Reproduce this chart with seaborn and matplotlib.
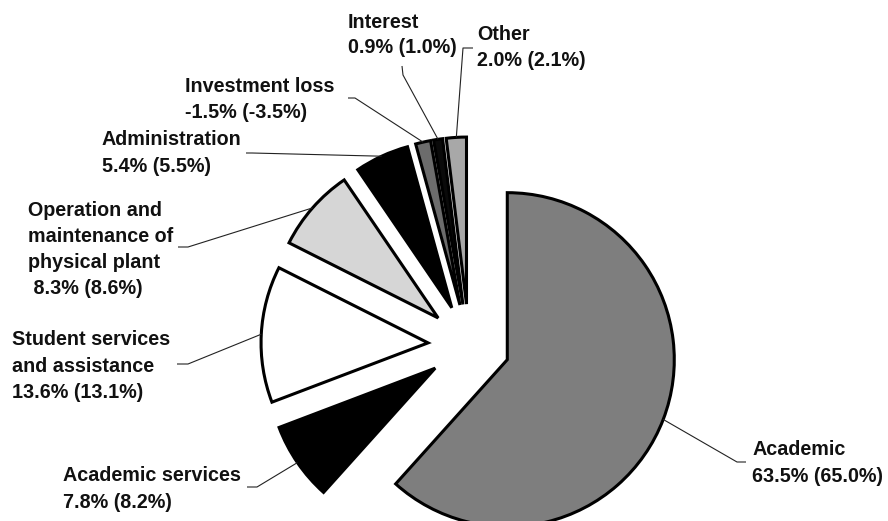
import matplotlib
matplotlib.use("Agg")
import matplotlib.pyplot as plt
import seaborn as sns
import numpy as np

# ---- data ----
categories = ["Academic", "Academic services", "Student services\nand assistance",
              "Operation and\nmaintenance of\nphysical plant", "Administration",
              "Investment loss", "Interest", "Other"]
share_now = [63.5, 7.8, 13.6, 8.3, 5.4, -1.5, 0.9, 2.0]
share_prev = [65.0, 8.2, 13.1, 8.6, 5.5, -3.5, 1.0, 2.1]
colors = ["#7e7e7e", "#000000", "#ffffff", "#d6d6d6", "#000000", "#6c6c6c", "#0a0a0a", "#a8a8a8"]

sns.set_theme(style="white")
plt.rcParams['font.family'] = ['Liberation Sans', 'DejaVu Sans']

W, H, DPI = 888, 521, 100
CX, CY, R = 469, 345, 167  # pie centre & radius in pixels

def px(x, y):
    return ((x - CX) / R, (CY - y) / R)

fig = plt.figure(figsize=(W / DPI, H / DPI), dpi=DPI)
ax = fig.add_axes([0, 0, 1, 1])

sizes = [abs(v) for v in share_now]
wedges, _ = ax.pie(sizes, startangle=90, counterclock=False, radius=1,
                   explode=[41 / R] * len(sizes), colors=colors,
                   wedgeprops=dict(edgecolor="black", linewidth=2.2))

x0, y0 = px(0, H)
x1, y1 = px(W, 0)
ax.set_xlim(x0, x1)
ax.set_ylim(y0, y1)
ax.set_aspect("auto")
ax.axis("off")

# label text lines
labels = []
for c, a, b in zip(categories, share_now, share_prev):
    lines = c.split("\n")
    lines.append(f"{a:.1f}% ({b:.1f}%)")
    labels.append(lines)
labels[3][-1] = " " + labels[3][-1]

# per-line (left x, baseline y) in pixels
text_pos = [
    [(752, 455), (752, 482)],
    [(63, 481), (63, 508)],
    [(12, 345), (12, 372), (12, 398)],
    [(28, 216), (28, 242), (28, 268), (28, 294)],
    [(102, 145), (102, 172)],
    [(185, 92), (185, 118)],
    [(348, 28), (348, 53)],
    [(477, 40), (477, 66)],
]
# leader line elbow & end points in pixels
leaders = [
    [(737, 462), (746, 462)],
    [(257, 487), (247, 487)],
    [(188, 364), (177, 364)],
    [(188, 247), (178, 247)],
    [(252, 153), (246, 153)],
    [(355, 98), (348, 98)],
    [(403, 75), (402, 66)],
    [(463, 48), (473, 48)],
]

for w, lines, pos, ld in zip(wedges, labels, text_pos, leaders):
    for t, (x, y) in zip(lines, pos):
        dx, dy = px(x, y)
        ax.text(dx, dy, t, ha="left", va="baseline", fontsize=14.2,
                fontweight="bold", color="#111111")
    mid = np.deg2rad((w.theta1 + w.theta2) / 2)
    cx, cy = w.center
    ax_, ay_ = cx + w.r * np.cos(mid), cy + w.r * np.sin(mid)
    pts = [(ax_, ay_)] + [px(*p) for p in ld]
    ax.plot([p[0] for p in pts], [p[1] for p in pts], color="#222222", lw=0.8,
            solid_capstyle="butt")

fig.savefig("out.png", dpi=DPI)
